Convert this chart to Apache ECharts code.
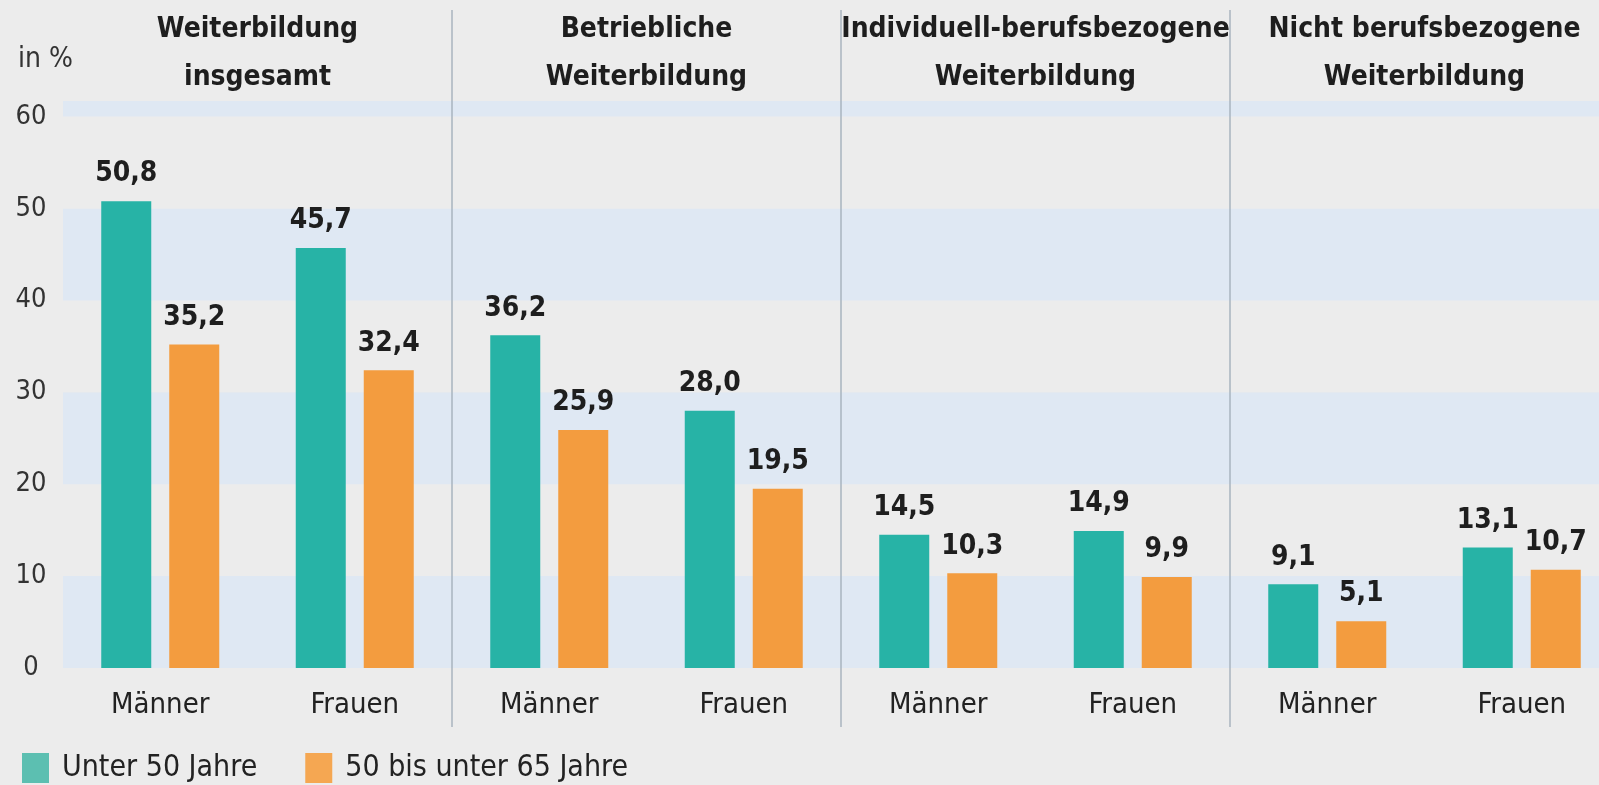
<!DOCTYPE html>
<html>
<head>
<meta charset="utf-8">
<script src="https://cdn.jsdelivr.net/npm/echarts@6/dist/echarts.min.js"></script>
<style>
  html, body { margin: 0; padding: 0; background: #ececec; }
  #main { width: 1599px; height: 785px; }
</style>
</head>
<body>
<div id="main"></div>
<script>
// Kategorien und Gruppen
var categories = ['Männer', 'Frauen', 'Männer', 'Frauen', 'Männer', 'Frauen', 'Männer', 'Frauen'];
var groups = [
  'Weiterbildung\ninsgesamt',
  'Betriebliche\nWeiterbildung',
  'Individuell-berufsbezogene\nWeiterbildung',
  'Nicht berufsbezogene\nWeiterbildung'
];
// Werte in %
var unter50 = [50.8, 45.7, 36.2, 28.0, 14.5, 14.9, 9.1, 13.1];
var ab50 = [35.2, 32.4, 25.9, 19.5, 10.3, 9.9, 5.1, 10.7];
var seriesNames = ['Unter 50 Jahre', '50 bis unter 65 Jahre'];
var yMax = 61.7;
var yStep = 10;

var font = '"Liberation Sans Narrow", "DejaVu Sans Condensed", "Arial Narrow", sans-serif';
var divColor = '#a9b4bf';

var chart = echarts.init(document.getElementById('main'));

function fmt(v) {
  return v.toFixed(1).replace('.', ',');
}

var valueLabel = {
  show: true,
  position: 'top',
  distance: 13,
  fontFamily: font,
  fontSize: 28,
  fontWeight: 'bold',
  color: '#1e1e1e',
  formatter: function (p) { return fmt(p.value); }
};

chart.setOption({
  backgroundColor: '#ececec',
  animation: false,
  textStyle: { fontFamily: font },
  title: {
    text: 'in %',
    left: 13,
    top: 41,
    textStyle: { fontFamily: font, fontSize: 28, fontWeight: 'normal', color: '#333' }
  },
  legend: {
    left: 22,
    top: 753,
    padding: 0,
    itemWidth: 27,
    itemHeight: 30,
    itemGap: 48,
    icon: 'rect',
    textStyle: { fontFamily: font, fontSize: 30, color: '#222', padding: [0, 0, 0, 8] },
    data: [
      { name: seriesNames[0], itemStyle: { color: '#5cbfb1' } },
      { name: seriesNames[1], itemStyle: { color: '#f5a752' } }
    ]
  },
  grid: {
    left: 63,
    right: -20,
    top: 101,
    bottom: 117,
    outerBoundsMode: 'none'
  },
  xAxis: [
    {
      type: 'category',
      data: categories,
      position: 'bottom',
      axisLine: { show: false },
      axisTick: {
        show: true,
        length: 59,
        interval: function (i) { return i > 0 && i % 2 === 0; },
        lineStyle: { color: divColor, width: 1.5 }
      },
      axisLabel: { fontFamily: font, fontSize: 29, color: '#222', margin: 23, interval: 0 }
    },
    {
      type: 'category',
      data: groups,
      position: 'top',
      z: 1,
      axisLine: { show: false },
      axisTick: {
        show: true,
        length: 91,
        interval: function (i) { return i > 0; },
        lineStyle: { color: divColor, width: 1.5 }
      },
      splitLine: {
        show: true,
        interval: function (i) { return i > 0; },
        lineStyle: { color: divColor, width: 1.5 }
      },
      axisLabel: {
        interval: 0,
        fontFamily: font,
        fontSize: 28,
        fontWeight: 'bold',
        lineHeight: 48,
        color: '#1e1e1e',
        margin: -1
      }
    }
  ],
  yAxis: {
    type: 'value',
    min: 0,
    max: yMax,
    interval: yStep,
    axisLine: { show: false },
    axisTick: { show: false },
    splitLine: { show: false },
    splitArea: { show: true, areaStyle: { color: ['#dfe8f3', '#ececec'] } },
    axisLabel: {
      fontFamily: font,
      fontSize: 27,
      color: '#333',
      align: 'center',
      margin: 32,
      padding: [0, 0, 10, 0],
      formatter: function (v) { return v % yStep === 0 ? String(v) : ''; }
    }
  },
  series: [
    {
      name: seriesNames[0],
      type: 'bar',
      xAxisIndex: 0,
      barWidth: 50,
      barGap: '36%',
      itemStyle: { color: '#27b3a6' },
      label: valueLabel,
      data: unter50
    },
    {
      name: seriesNames[1],
      type: 'bar',
      xAxisIndex: 0,
      barWidth: 50,
      barGap: '36%',
      itemStyle: { color: '#f39c3f' },
      label: valueLabel,
      data: ab50
    }
  ]
});
</script>
</body>
</html>
